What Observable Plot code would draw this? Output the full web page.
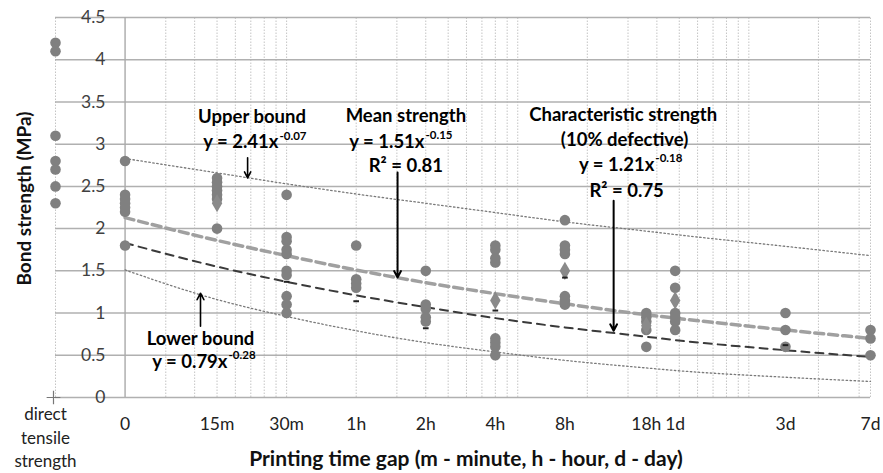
<!DOCTYPE html>
<html><head><meta charset="utf-8">
<script src="https://cdn.jsdelivr.net/npm/d3@7"></script>
<script src="https://cdn.jsdelivr.net/npm/@observablehq/plot@0.6"></script>
<style>
html,body{margin:0;padding:0;background:#fff;}
#chart{width:883px;height:473px;overflow:hidden;}
</style></head><body><div id="chart"></div>
<script>
// ---- categories (printing time gap) and their position in hours ----
const groupLabels = ["direct\ntensile\nstrength","0","15m","30m","1h","2h","4h","8h","18h","1d","3d","7d"];
const groupHours  = [0.05, 0.1, 0.25, 0.5, 1, 2, 4, 8, 18, 24, 72, 168];

// ---- measured bond strengths (MPa), one array per group ----
const strengthDirect = [4.2, 4.1, 3.1, 2.8, 2.7, 2.5, 2.3];
const strength0   = [2.8, 2.4, 2.35, 2.3, 2.25, 2.2, 1.8];
const strength15m = [2.6, 2.55, 2.5, 2.45, 2.4, 2.35, 2.0];
const strength30m = [2.4, 1.9, 1.85, 1.75, 1.7, 1.5, 1.45, 1.2, 1.1, 1.0];
const strength1h  = [1.8, 1.4, 1.35, 1.3];
const strength2h  = [1.5, 1.1, 1.05, 0.95, 0.9];
const strength4h  = [1.8, 1.75, 1.65, 1.6, 0.7, 0.65, 0.6, 0.5];
const strength8h  = [2.1, 1.8, 1.75, 1.7, 1.2, 1.15, 1.1];
const strength18h = [1.0, 0.95, 0.9, 0.8, 0.6];
const strength1d  = [1.5, 1.3, 1.0, 0.95, 0.9, 0.8];
const strength3d  = [1.0, 0.8, 0.6];
const strength7d  = [0.8, 0.7, 0.5];
const groupStrengths = [strengthDirect, strength0, strength15m, strength30m, strength1h, strength2h,
  strength4h, strength8h, strength18h, strength1d, strength3d, strength7d];

// ---- group means (diamonds) and characteristic values (dashes) ----
const meanHours  = [0.25, 4, 8, 18, 24];
const meanValues = [2.3, 1.15, 1.5, 0.85, 1.15];
const charHours  = [0.5, 1, 2, 4, 8, 72];
const charValues = [1.37, 1.14, 0.82, 1.03, 1.42, 0.62];

// ---- trend lines ----
const fitHours = [0.1, 0.25, 0.5, 1, 2, 4, 8, 18, 24, 72, 168];
const upperFit = [2.83, 2.66, 2.53, 2.41, 2.30, 2.19, 2.08, 1.97, 1.93, 1.79, 1.68];
const meanFit  = [2.13, 1.86, 1.68, 1.51, 1.36, 1.23, 1.11, 0.98, 0.94, 0.80, 0.70];
const charFit  = [1.83, 1.55, 1.37, 1.21, 1.07, 0.94, 0.83, 0.72, 0.68, 0.56, 0.48];
const lowerFit = [1.51, 1.16, 0.96, 0.79, 0.65, 0.54, 0.44, 0.35, 0.32, 0.24, 0.19];

// ---- axes ----
const yTicks = [0, 0.5, 1, 1.5, 2, 2.5, 3, 3.5, 4, 4.5];
const yTickLabels = ["0","0.5","1","1.5","2","2.5","3","3.5","4","4.5"];
const gridHours = [0.05, 0.15, 0.2, 0.25, 0.3, 0.35, 0.4, 0.45, 0.5,
  1, 1.5, 2, 2.5, 3, 3.5, 4, 4.5, 5, 10, 15, 20, 25, 30, 35, 40, 45, 50, 100, 150, 168];
const xTitle = "Printing time gap (m - minute, h - hour, d - day)";
const yTitle = "Bond strength (MPa)";

// ---- annotation layout (data coordinates) ----
const notes = [
  {t: "Upper bound", x: 0.354, y: 3.32},
  {t: "Mean strength", x: 1.64, y: 3.33},
  {t: "R² = 0.81", x: 1.64, y: 2.74},
  {t: "Characteristic strength", x: 14.3, y: 3.34},
  {t: "(10% defective)", x: 14.5, y: 3.045},
  {t: "R² = 0.75", x: 14.8, y: 2.45},
  {t: "Lower bound", x: 0.212, y: 0.695}
];
const equations = [
  {base: "y = 2.41x", sup: "-0.07", x: 0.461, y: 3.02},
  {base: "y = 1.51x", sup: "-0.15", x: 1.975, y: 3.025},
  {base: "y = 1.21x", sup: "-0.18", x: 19.5, y: 2.75},
  {base: "y = 0.79x", sup: "-0.28", x: 0.2775, y: 0.42}
];
const arrows = [
  {x: 0.339, y1: 2.84, y2: 2.60, w: 1.6},
  {x: 1.51, y1: 2.665, y2: 1.42, w: 2},
  {x: 13.0, y1: 2.33, y2: 0.79, w: 2},
  {x: 0.212, y1: 0.845, y2: 1.235, w: 1.6}
];

const points = groupHours.flatMap((h, i) => groupStrengths[i].map(v => ({h, v})));
const fits = fitHours.map((h, i) => ({h, upper: upperFit[i], mean: meanFit[i], char: charFit[i], lower: lowerFit[i]}));
const means = meanHours.map((h, i) => ({h, v: meanValues[i]}));
const chars = charHours.map((h, i) => ({h, v: charValues[i]}));
const xLabels = groupHours.slice(1).map((h, i) => ({h, t: groupLabels[i + 1]}));

const dashSymbol = {
  draw(context, size) {
    const r = Math.sqrt(size) / 2;
    context.moveTo(-r, 0);
    context.lineTo(r, 0);
  }
};

const FONT = "Lato, 'Open Sans', sans-serif";

const chart = Plot.plot({
  width: 883,
  height: 473,
  marginLeft: 55,
  marginRight: 13,
  marginTop: 17,
  marginBottom: 76,
  x: {type: "log", domain: [0.05, 168], axis: null},
  y: {domain: [0, 4.5], axis: null},
  style: {fontFamily: FONT, background: "#fff", overflow: "visible"},
  marks: [
    Plot.ruleX(gridHours, {y1: 0, y2: 4.5, stroke: "#c4c4c4", strokeWidth: 1, strokeDasharray: "1.5,1.5"}),
    Plot.ruleY(yTicks, {x1: 0.05, x2: 168, stroke: "#b0b0b0", strokeWidth: 1.5}),
    Plot.ruleX([groupHours[1]], {y1: 0, y2: 4.5, stroke: "#a9a9a9", strokeWidth: 1.4}),
    // small cross tick at the left end of the x axis
    Plot.dot([0], {frameAnchor: "bottom-left", dx: -2, symbol: "plus", r: 4.5, stroke: "#777", strokeWidth: 1.2}),
    // trend lines
    Plot.line(fits, {x: "h", y: "upper", stroke: "#7a7a7a", strokeWidth: 1.3, strokeDasharray: "1.5,2.5", curve: "monotone-x"}),
    Plot.line(fits, {x: "h", y: "lower", stroke: "#7a7a7a", strokeWidth: 1.3, strokeDasharray: "1.5,2.5", curve: "monotone-x"}),
    Plot.line(fits, {x: "h", y: "mean", stroke: "#a0a0a0", strokeWidth: 3.5, strokeDasharray: "9,5", curve: "monotone-x"}),
    Plot.line(fits, {x: "h", y: "char", stroke: "#3a3a3a", strokeWidth: 2, strokeDasharray: "8,6", curve: "monotone-x"}),
    // data
    Plot.dot(points, {x: "h", y: "v", r: 5.3, fill: "#808080", stroke: "none"}),
    Plot.dot(means, {x: "h", y: "v", symbol: "diamond", r: 5.5, fill: "#8a8a8a", stroke: "none"}),
    Plot.dot(chars, {x: "h", y: "v", symbol: dashSymbol, r: 3.2, stroke: "#222", strokeWidth: 2, fill: "none"}),
    // arrows
    Plot.arrow(arrows, {x: "x", y1: "y1", y2: "y2", stroke: "#000", strokeWidth: "w", headLength: 11, headAngle: 55}),
    // annotations
    Plot.text(notes, {x: "x", y: "y", text: "t", fontSize: 18.5, fontWeight: "bold", fill: "#000", lineAnchor: "middle"}),
    Plot.text(equations, {x: "x", y: "y", text: "base", fontSize: 18.5, fontWeight: "bold", fill: "#000", textAnchor: "end", lineAnchor: "middle"}),
    Plot.text(equations, {x: "x", y: "y", text: "sup", fontSize: 11.5, fontWeight: "bold", fill: "#000", textAnchor: "start", lineAnchor: "middle", dx: 1, dy: -6.5}),
    // y tick labels (placed left of the y axis at "0")
    Plot.text(yTicks, {frameAnchor: "left", y: d => d, text: (d, i) => yTickLabels[i], textAnchor: "end", dx: 50, fontSize: 17.5, fill: "#404040", lineAnchor: "middle"}),
    // x tick labels
    Plot.text(xLabels, {x: "h", text: "t", frameAnchor: "bottom", textAnchor: "middle", dy: 26.5, fontSize: 17.5, fill: "#222", lineAnchor: "middle"}),
    Plot.text([groupLabels[0]], {frameAnchor: "bottom-left", textAnchor: "middle", dx: -10, dy: 38.5, fontSize: 17, fill: "#222", lineAnchor: "middle", lineHeight: 1.38}),
    // axis titles
    Plot.text([xTitle], {frameAnchor: "bottom", textAnchor: "middle", dx: 3, dy: 62, fontSize: 21, fontWeight: "bold", fill: "#111", lineAnchor: "middle"}),
    Plot.text([yTitle], {frameAnchor: "left", textAnchor: "middle", dx: -31, dy: -9, rotate: -90, fontSize: 19, fontWeight: "bold", fill: "#111", lineAnchor: "middle"})
  ]
});
document.getElementById("chart").appendChild(chart);
</script>
</body></html>
